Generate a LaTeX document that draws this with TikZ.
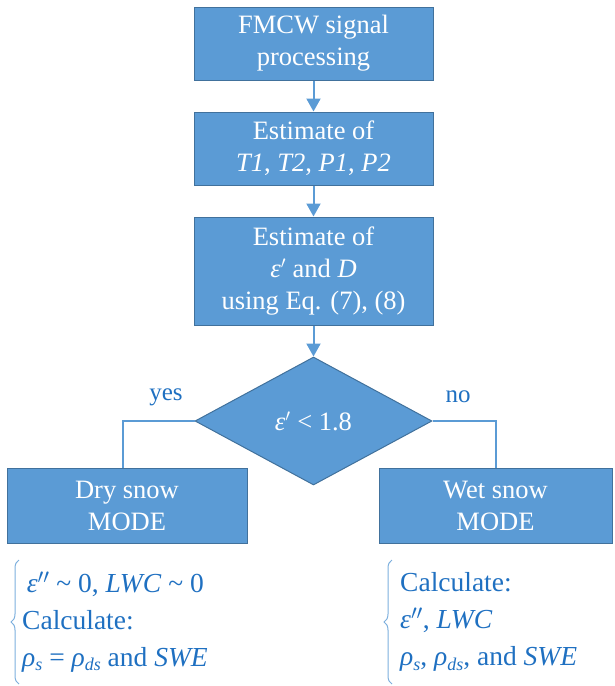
\documentclass[tikz,border=0pt]{standalone}
\usepackage{fontspec}
\setmainfont{Liberation Serif}
\usetikzlibrary{shapes.geometric,arrows.meta,decorations.pathreplacing}
\definecolor{boxfill}{HTML}{5B9BD5}
\definecolor{boxline}{HTML}{41719C}
\definecolor{txtblue}{HTML}{1F70C1}
\newcommand{\eps}{\textit{ε}}
\newcommand{\rsub}[1]{\raisebox{-0.35ex}{\fontsize{18}{18}\selectfont\itshape #1}}
\tikzset{
  procbox/.style={draw=boxline, line width=1pt, fill=boxfill, text=white, align=center,
    font=\fontsize{26.5}{32}\selectfont, inner sep=0pt},
  decbox/.style={diamond, draw=boxline, line width=1pt, fill=boxfill, text=white,
    font=\fontsize{26.5}{32}\selectfont, inner sep=0pt},
  flow/.style={draw=boxfill, line width=2pt, -{Triangle[length=13pt,width=14pt]}},
  plain/.style={draw=boxfill, line width=2pt},
  lbl/.style={text=txtblue, font=\fontsize{25}{28}\selectfont},
  notes/.style={text=txtblue, align=left, anchor=west, inner sep=0pt,
    font=\fontsize{27.5}{37}\selectfont},
  bracestyle/.style={draw=boxfill!80, line width=1pt, decorate,
    decoration={brace, amplitude=8pt, mirror}}
}
\begin{document}
\begin{tikzpicture}[x=1pt,y=-1pt]
\useasboundingbox (0,0) rectangle (614,686);
\node[procbox, minimum width=239pt, minimum height=73pt] (b1) at (313.5,43.5) {FMCW signal\\processing};
\node[procbox, minimum width=239pt, minimum height=73pt] (b2) at (313.5,148.5) {Estimate of\\\textit{T1}, \textit{T2}, \textit{P1}, \textit{P2}};
\node[procbox, minimum width=239pt, minimum height=108pt] (b3) at (313.5,271) {Estimate of\\\eps$'$ and \textit{D}\\using Eq. (7), (8)};
\node[decbox, minimum width=237pt, minimum height=128pt] (d) at (313.5,421) {\eps$'$ < 1.8};
\node[procbox, minimum width=240pt, minimum height=75pt] (dry) at (127,505.5) {Dry snow\\MODE};
\node[procbox, minimum width=233pt, minimum height=75pt] (wet) at (495.5,505.5) {Wet snow\\MODE};
\coordinate (cl) at (123,421);
\coordinate (cr) at (496,421);
\draw[flow] (b1.south) -- (b2.north);
\draw[flow] (b2.south) -- (b3.north);
\draw[flow] (b3.south) -- (d.north);
\draw[plain] (d.west) -- (cl) -- (cl |- dry.north);
\draw[plain] (d.east) -- (cr) -- (cr |- wet.north);
\node[lbl] (yes) at (166,397) {yes};
\node[lbl] (no) at (458,397) {no};
\node[notes] (nl) at (22,622) {\,\eps$''$ \textasciitilde\ 0, \textit{LWC} \textasciitilde\ 0\\Calculate:\\\textit{ρ}\rsub{s} = \textit{ρ}\rsub{ds} and \textit{SWE}};
\node[notes] (nr) at (400,622) {Calculate:\\\eps$''$, \textit{LWC}\\\textit{ρ}\rsub{s}, \textit{ρ}\rsub{ds}, and \textit{SWE}};
\coordinate (lb1) at (19,560);
\coordinate (lb2) at (19,684);
\coordinate (rb1) at (392,560);
\coordinate (rb2) at (392,684);
\draw[bracestyle] (lb1) -- (lb2);
\draw[bracestyle] (rb1) -- (rb2);
\end{tikzpicture}
\end{document}
